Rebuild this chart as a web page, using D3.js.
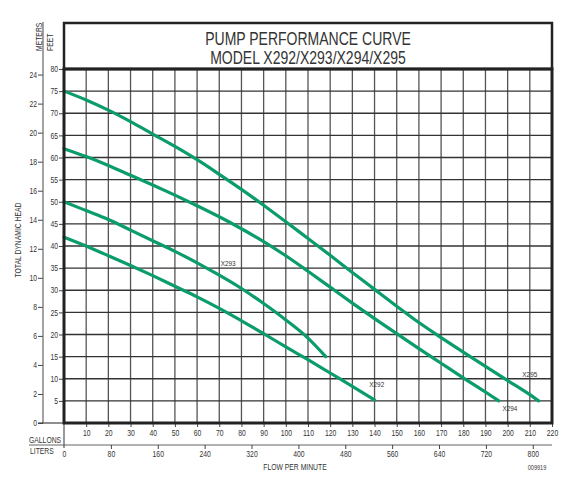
<!DOCTYPE html>
<html>
<head>
<meta charset="utf-8">
<script src="https://cdn.jsdelivr.net/npm/d3@7"></script>
<style>
body{margin:0;background:#fff;}
svg text{font-family:"Liberation Sans",Arial,sans-serif;fill:#333;}
</style>
</head>
<body>
<div id="chart"></div>
<script>
// pump curves: flow in gallons per minute, head in feet
var models = ["X292","X293","X294","X295"];
var gpm292 = [0,10,20,30,40,50,60,70,80,90,100,110,120,130,140];
var ft292  = [42,40,37.8,35.6,33.3,30.9,28.5,25.9,23.1,20.2,17.2,14.3,11.3,8.3,5.2];
var gpm293 = [0,10,20,30,40,50,60,70,80,90,100,110,118];
var ft293  = [50,48,46,43.6,41.2,38.8,36.2,33.4,30.4,27,23.3,19.2,15];
var gpm294 = [0,10,20,30,40,50,60,70,80,90,100,110,120,130,140,150,160,170,180,190,196];
var ft294  = [62,60.2,58.2,56,53.8,51.5,49.1,46.6,43.9,41,37.8,34.3,30.7,27.1,23.6,20.2,16.8,13.5,10.2,7,5];
var gpm295 = [0,10,20,30,40,50,60,70,80,90,100,110,120,130,140,150,160,170,180,190,200,210,214];
var ft295  = [75,73,70.7,68.1,65.3,62.5,59.5,56.2,52.8,49.2,45.5,41.7,37.9,34,30.2,26.4,22.7,19.3,16,12.8,9.6,6.4,5];
// where each model name sits (gpm, feet)
var labelGpm = [141,74,201,210];
var labelFt  = [8.8,36.2,3.4,11.1];

var gallonTicks = d3.range(10,230,10);
var literTicks = d3.range(0,880,80);
var feetTicks = d3.range(5,85,5);
var meterTicks = d3.range(0,26,2);

var W = 583, H = 503;
var L = 64, R = 552, T = 69, B = 423;
var green = "#0b9c6b";

var x = d3.scaleLinear().domain([0,220]).range([L,R]);
var xl = d3.scaleLinear().domain([0,220*3.78541]).range([L,R]);
var y = d3.scaleLinear().domain([0,80]).range([B,T]);
var ym = d3.scaleLinear().domain([0,80/3.28084]).range([B,T]);

var svg = d3.select("#chart").append("svg")
	.attr("width",W).attr("height",H);

// grid
svg.append("g").selectAll("line")
	.data(gallonTicks.filter(function(d){return d<220}))
	.enter().append("line")
	.attr("x1",function(d){return x(d)}).attr("x2",function(d){return x(d)})
	.attr("y1",T).attr("y2",B)
	.attr("stroke","#555").attr("stroke-width",1.3);
svg.append("g").selectAll("line")
	.data(feetTicks.filter(function(d){return d<80}))
	.enter().append("line")
	.attr("x1",L).attr("x2",R)
	.attr("y1",function(d){return y(d)}).attr("y2",function(d){return y(d)})
	.attr("stroke","#333").attr("stroke-width",1.3);

// feet axis
var feetAxis = svg.append("g")
	.attr("transform","translate("+L+",0)")
	.call(d3.axisLeft(y).tickValues(feetTicks).tickSize(5).tickPadding(1));
feetAxis.select(".domain").remove();
feetAxis.selectAll("line").attr("stroke","#444");
feetAxis.selectAll("text").style("font-size","8.5px").attr("fill","#444");

// meters axis
var meterAxis = svg.append("g")
	.attr("transform","translate(43,0)")
	.call(d3.axisLeft(ym).tickValues(meterTicks).tickSize(5).tickPadding(1));
meterAxis.select(".domain").remove();
meterAxis.selectAll("line").attr("stroke","#444");
meterAxis.selectAll("text").style("font-size","8.5px").attr("fill","#444");
svg.append("line").attr("x1",43).attr("x2",43).attr("y1",22).attr("y2",B)
	.attr("stroke","#666").attr("stroke-width",1.2);
svg.append("line").attr("x1",38).attr("x2",L).attr("y1",B).attr("y2",B)
	.attr("stroke","#444").attr("stroke-width",1.2);

svg.append("text").attr("transform","translate(42,51) rotate(-90)")
	.style("font-size","8.5px").text("METERS");
svg.append("text").attr("transform","translate(53,51) rotate(-90)")
	.style("font-size","8.5px").text("FEET");
svg.append("text").attr("transform","translate(21,240) rotate(-90)")
	.attr("text-anchor","middle").style("font-size","8.5px").text("TOTAL DYNAMIC HEAD");

// gallons axis
var galAxis = svg.append("g")
	.attr("transform","translate(0,"+B+")")
	.call(d3.axisBottom(x).tickValues(gallonTicks).tickSize(4).tickPadding(3));
galAxis.select(".domain").remove();
galAxis.selectAll("line").attr("stroke","#444");
galAxis.selectAll("text").style("font-size","8.5px").attr("fill","#444");

svg.append("line").attr("x1",29).attr("x2",R).attr("y1",445).attr("y2",445)
	.attr("stroke","#666").attr("stroke-width",1.2);
svg.append("line").attr("x1",L).attr("x2",L).attr("y1",B).attr("y2",448)
	.attr("stroke","#555").attr("stroke-width",1.2);

// liters axis
var litAxis = svg.append("g")
	.attr("transform","translate(0,445)")
	.call(d3.axisBottom(xl).tickValues(literTicks).tickSize(4).tickPadding(2));
litAxis.select(".domain").remove();
litAxis.selectAll("line").attr("stroke","#444").filter(function(d){return d==0}).remove();
litAxis.selectAll("text").style("font-size","8.5px").attr("fill","#444");

svg.append("text").attr("x",29).attr("y",443).style("font-size","8.5px").text("GALLONS");
svg.append("text").attr("x",30).attr("y",454).style("font-size","8.5px").text("LITERS");
svg.append("text").attr("x",295).attr("y",470).attr("text-anchor","middle")
	.style("font-size","8.5px").text("FLOW PER MINUTE");
svg.append("text").attr("x",537).attr("y",470).attr("text-anchor","middle")
	.style("font-size","7px").text("009919");

// curves
var series = [[gpm292,ft292],[gpm293,ft293],[gpm294,ft294],[gpm295,ft295]];
var line = d3.line()
	.x(function(d){return x(d[0])})
	.y(function(d){return y(d[1])})
	.curve(d3.curveMonotoneX);
svg.append("g").selectAll("path")
	.data(series)
	.enter().append("path")
	.attr("d",function(s){return line(d3.zip(s[0],s[1]))})
	.attr("fill","none")
	.attr("stroke",green)
	.attr("stroke-width",3.2)
	.attr("stroke-linecap","round");

svg.append("g").selectAll("text")
	.data(models)
	.enter().append("text")
	.attr("x",function(d,i){return x(labelGpm[i])})
	.attr("y",function(d,i){return y(labelFt[i])+3})
	.attr("text-anchor","middle")
	.style("font-size","8px")
	.attr("fill","#444")
	.text(function(d){return d});

// frames
svg.append("rect").attr("x",L).attr("y",T).attr("width",R-L).attr("height",B-T)
	.attr("fill","none").attr("stroke","#222").attr("stroke-width",3);
svg.append("rect").attr("x",L).attr("y",23).attr("width",R-L).attr("height",T-23)
	.attr("fill","none").attr("stroke","#222").attr("stroke-width",2.5);

svg.append("text").attr("x",(L+R)/2).attr("y",45).attr("text-anchor","middle")
	.style("font-size","17.5px").attr("fill","#222").text("PUMP PERFORMANCE CURVE");
svg.append("text").attr("x",(L+R)/2).attr("y",64).attr("text-anchor","middle")
	.style("font-size","17.5px").attr("fill","#222").text("MODEL X292/X293/X294/X295");

// the original uses a narrow face; squeeze every label horizontally
svg.selectAll("text").each(function(){
	var len = this.getComputedTextLength();
	d3.select(this).attr("textLength",len*0.8).attr("lengthAdjust","spacingAndGlyphs");
});
</script>
</body>
</html>
